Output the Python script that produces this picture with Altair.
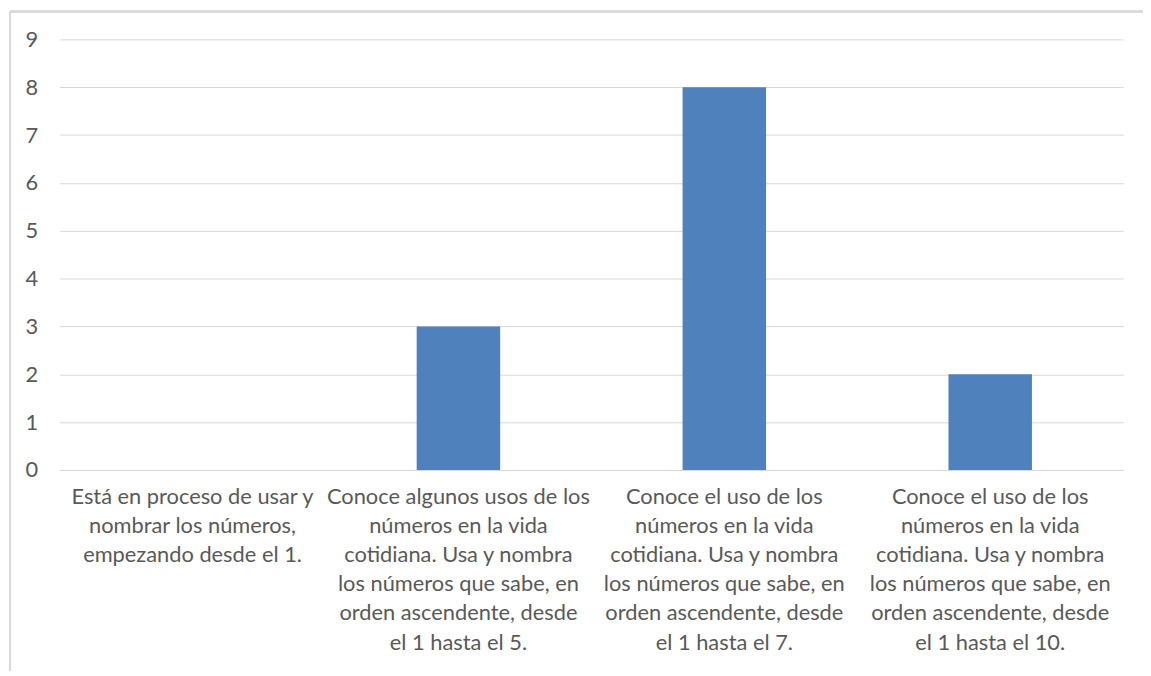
import altair as alt
import pandas as pd

categories = [
    "Está en proceso de usar y|nombrar los números,|empezando desde el 1.",
    "Conoce algunos usos de los|números en la vida|cotidiana. Usa y nombra|los números que sabe, en|orden ascendente, desde|el 1 hasta el 5.",
    "Conoce el uso de los|números en la vida|cotidiana. Usa y nombra|los números que sabe, en|orden ascendente, desde|el 1 hasta el 7.",
    "Conoce el uso de los|números en la vida|cotidiana. Usa y nombra|los números que sabe, en|orden ascendente, desde|el 1 hasta el 10.",
]
values = [0, 3, 8, 2]
y_ticks = list(range(0, 10))

df = pd.DataFrame({"cat": categories, "val": values})

FONT = "Lato"
W, H = 1072, 434

bars = alt.Chart(df).mark_bar(color="#4F81BD").encode(
    x=alt.X(
        "cat:N",
        sort=categories,
        title=None,
        scale=alt.Scale(paddingInner=0.686, paddingOuter=0.343),
        axis=alt.Axis(
            labelExpr="split(datum.label, '|')",
            labelAngle=0,
            labelFont=FONT,
            labelFontSize=22,
            labelColor="#595959",
            labelLineHeight=29.3,
            labelPadding=17,
            labelLimit=0,
            labelOverlap=False,
            ticks=False,
            domainColor="#d9d9d9",
            domainWidth=1,
            labelBaseline="top",
        ),
    ),
    y=alt.Y(
        "val:Q",
        title=None,
        scale=alt.Scale(domain=[0, 9], nice=False),
        axis=alt.Axis(
            values=y_ticks,
            labelFont=FONT,
            labelFontSize=22,
            labelColor="#595959",
            labelPadding=22,
            ticks=False,
            domain=False,
            gridColor="#d9d9d9",
            gridWidth=1,
        ),
    ),
)

border_left = alt.Chart(df).mark_rule(color="#d9d9d9", strokeWidth=2).encode(
    x=alt.value(-50), y=alt.value(-28), y2=alt.value(H + 250)
)
border_top = alt.Chart(df).mark_rule(color="#d9d9d9", strokeWidth=2).encode(
    y=alt.value(-28), x=alt.value(-50), x2=alt.value(W + 60)
)

chart = (
    alt.layer(border_left, border_top, bars)
    .properties(
        width=W,
        height=H,
        background="white",
        padding={"left": 52, "top": 29, "right": 20, "bottom": 200},
        autosize=alt.AutoSizeParams(type="none"),
    )
    .configure_view(strokeWidth=0, stroke="transparent")
)

chart.save("out.html", embed_options={"renderer": "svg", "actions": False})
